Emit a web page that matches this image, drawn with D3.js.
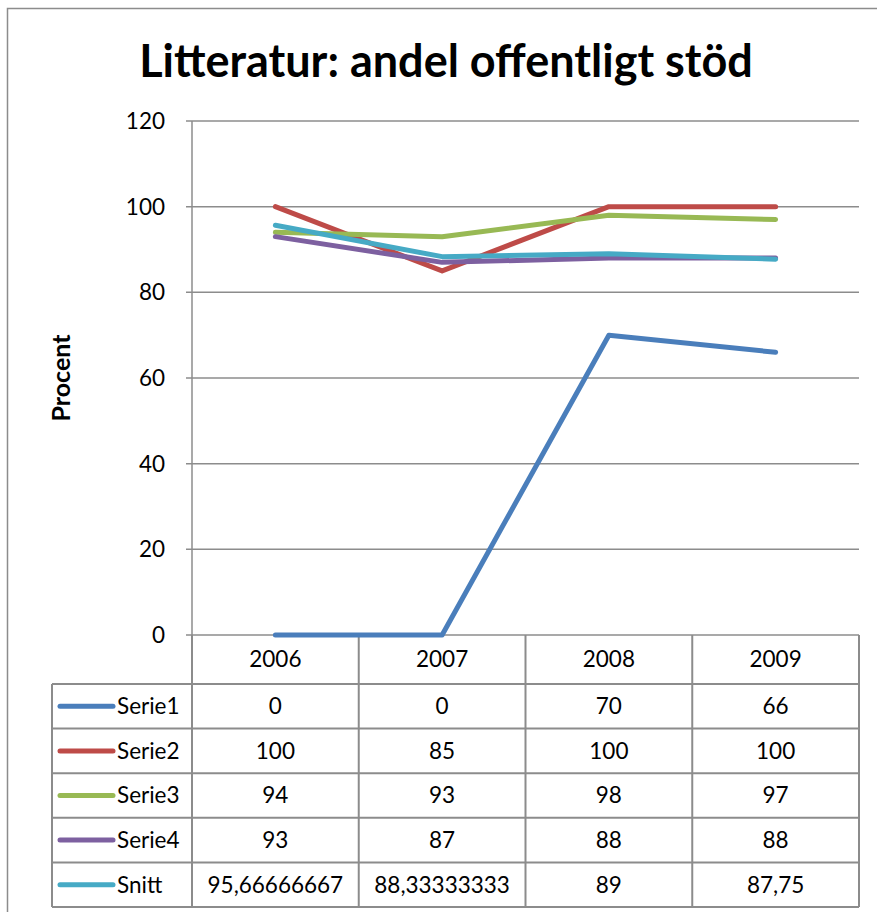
<!DOCTYPE html>
<html>
<head>
<meta charset="utf-8">
<script src="https://cdn.jsdelivr.net/npm/d3@7"></script>
<style>
  body { margin: 0; background: #fff; }
  svg { display: block; font-family: Lato, "Open Sans", sans-serif; }
</style>
</head>
<body>
<script>
const years = ["2006", "2007", "2008", "2009"]
const seriesNames = ["Serie1", "Serie2", "Serie3", "Serie4", "Snitt"]
const serie1 = [0, 0, 70, 66]
const serie2 = [100, 85, 100, 100]
const serie3 = [94, 93, 98, 97]
const serie4 = [93, 87, 88, 88]
const snitt = [95.66666667, 88.33333333, 89, 87.75]
const yTicks = [0, 20, 40, 60, 80, 100, 120]
const colors = ["#4a7ebb", "#be4b48", "#98b954", "#7d60a0", "#46aac5"]

const series = seriesNames.map((name, i) => ({
  name: name,
  color: colors[i],
  values: [serie1, serie2, serie3, serie4, snitt][i],
}))

const width = 877
const height = 912
const plot = { left: 192, right: 859, top: 121, bottom: 635 }
const table = { left: 52, headerBottom: 684, bottom: 907 }
const gridColor = "#8c8c8c"
const fontSize = "22.5px"

const svg = d3.select("body")
  .append("svg")
  .attr("width", width)
  .attr("height", height)

// outer chart frame
svg.append("rect")
  .attr("x", 7.5)
  .attr("y", 8.5)
  .attr("width", width + 10)
  .attr("height", height + 10)
  .style("fill", "#fff")
  .style("stroke", "#8c8c8c")
  .style("stroke-width", 1.5)

// title
svg.append("text")
  .attr("x", 446)
  .attr("y", 77)
  .attr("text-anchor", "middle")
  .style("font-size", "45px")
  .style("font-weight", "bold")
  .text("Litteratur: andel offentligt stöd")

const x = d3.scaleBand().domain(years).range([plot.left, plot.right])
const y = d3.scaleLinear().domain([0, 120]).range([plot.bottom, plot.top])
const row = d3.scaleBand().domain(seriesNames).range([table.headerBottom, table.bottom])

// gridlines
svg.append("g")
  .selectAll("line")
  .data(yTicks)
  .enter()
  .append("line")
  .attr("x1", plot.left - 6)
  .attr("x2", plot.right)
  .attr("y1", d => y(d))
  .attr("y2", d => y(d))
  .style("stroke", gridColor)
  .style("stroke-width", 1.5)

// y axis line
svg.append("line")
  .attr("x1", plot.left)
  .attr("x2", plot.left)
  .attr("y1", y(120))
  .attr("y2", y(0))
  .style("stroke", gridColor)
  .style("stroke-width", 1.5)

// y tick labels
svg.append("g")
  .selectAll("text")
  .data(yTicks)
  .enter()
  .append("text")
  .attr("x", 165)
  .attr("y", d => y(d))
  .attr("dy", "0.35em")
  .attr("text-anchor", "end")
  .style("font-size", fontSize)
  .text(d => d)

// y axis title
svg.append("text")
  .attr("transform", "translate(70,378) rotate(-90)")
  .attr("text-anchor", "middle")
  .style("font-size", "25px")
  .style("font-weight", "bold")
  .text("Procent")

// data table grid
const tg = svg.append("g")
  .style("stroke", gridColor)
  .style("stroke-width", 2)
  .style("fill", "none")

years.concat([null]).forEach(yr => {
  const xx = yr ? x(yr) : plot.right
  tg.append("line")
    .attr("x1", xx).attr("x2", xx)
    .attr("y1", plot.bottom).attr("y2", table.bottom)
})
tg.append("line")
  .attr("x1", table.left).attr("x2", table.left)
  .attr("y1", table.headerBottom).attr("y2", table.bottom)
seriesNames.concat([null]).forEach(name => {
  const yy = name ? row(name) : table.bottom
  tg.append("line")
    .attr("x1", table.left).attr("x2", plot.right)
    .attr("y1", yy).attr("y2", yy)
})

// year labels
svg.append("g")
  .selectAll("text")
  .data(years)
  .enter()
  .append("text")
  .attr("x", d => x(d) + x.bandwidth() / 2)
  .attr("y", (plot.bottom + table.headerBottom) / 2)
  .attr("dy", "0.35em")
  .attr("text-anchor", "middle")
  .style("font-size", fontSize)
  .text(d => d)

// table rows: legend key + values
const rows = svg.append("g")
  .selectAll("g")
  .data(series)
  .enter()
  .append("g")
  .attr("transform", d => `translate(0,${row(d.name) + row.bandwidth() / 2})`)

rows.append("line")
  .attr("x1", 60)
  .attr("x2", 113)
  .style("stroke", d => d.color)
  .style("stroke-width", 5)
  .style("stroke-linecap", "round")

rows.append("text")
  .attr("x", 117)
  .attr("dy", "0.35em")
  .style("font-size", fontSize)
  .text(d => d.name)

rows.selectAll("text.val")
  .data(d => d.values)
  .enter()
  .append("text")
  .attr("class", "val")
  .attr("x", (v, i) => x(years[i]) + x.bandwidth() / 2)
  .attr("dy", "0.35em")
  .attr("text-anchor", "middle")
  .style("font-size", fontSize)
  .text(v => String(v).replace(".", ","))

// lines
const line = d3.line()
  .x((v, i) => x(years[i]) + x.bandwidth() / 2)
  .y(v => y(v))

svg.append("g")
  .selectAll("path")
  .data(series)
  .enter()
  .append("path")
  .attr("d", d => line(d.values))
  .style("fill", "none")
  .style("stroke", d => d.color)
  .style("stroke-width", 5)
  .style("stroke-linecap", "round")
  .style("stroke-linejoin", "round")
</script>
</body>
</html>
